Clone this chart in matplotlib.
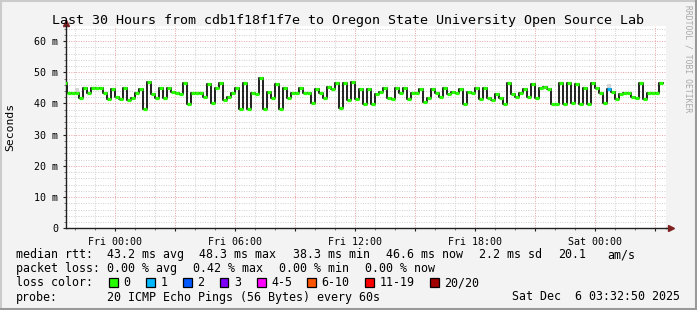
import numpy as np
import pandas as pd
import matplotlib
matplotlib.use("Agg")
import matplotlib.pyplot as plt
import matplotlib.dates as mdates
from matplotlib.ticker import MultipleLocator, FuncFormatter
from matplotlib.patches import Rectangle
from matplotlib.lines import Line2D

# median rtt in ms, one value per 12 minute step
median_ms = [46.5,
    43.4, 43.4, 43.4, 41.7, 44.9, 43.4, 44.9, 44.9, 44.9, 43.4,
    41.5, 44.6, 42.1, 41.5, 44.9, 41.1, 41.9, 43.4, 44.6, 38.3,
    46.8, 43.0, 41.7, 44.9, 41.7, 44.9, 43.6, 43.3, 43.0, 46.6,
    39.9, 43.4, 43.4, 43.4, 42.1, 46.3, 40.2, 44.9, 46.6, 41.1,
    42.1, 43.4, 44.9, 38.3, 46.6, 38.3, 43.4, 43.0, 48.3, 38.3,
    43.6, 41.7, 46.3, 38.3, 44.9, 41.7, 43.4, 43.4, 44.9, 43.4,
    43.4, 40.2, 44.6, 43.4, 41.7, 45.3, 44.6, 46.6, 38.5, 46.6,
    41.0, 46.8, 41.4, 44.6, 39.9, 44.6, 39.9, 43.0, 43.6, 44.9,
    41.7, 41.5, 44.9, 43.4, 44.9, 41.5, 43.4, 43.4, 44.6, 40.4,
    41.7, 44.6, 43.4, 42.1, 44.9, 43.0, 43.6, 43.4, 44.7, 39.9,
    43.6, 43.4, 44.9, 41.5, 44.9, 41.7, 41.1, 43.0, 41.9, 39.9,
    46.6, 43.0, 42.1, 43.4, 44.6, 42.1, 46.3, 41.7, 44.9, 45.2,
    44.6, 39.9, 39.9, 46.6, 39.9, 46.6, 40.2, 46.3, 39.9, 44.9,
    39.9, 46.6, 44.9, 43.4, 40.2, 44.7, 43.6, 41.5, 43.0, 43.4,
    43.4, 42.1, 41.7, 46.6, 41.5, 43.4, 43.4, 43.4, 46.6]
first_step = "2025-12-04 21:24:50"
step_min = 12

# steps with packet loss (index, lost pings)
loss_step = [136]
loss_level = [1]

# visible smoke (ping spread)
smoke_step = [3, 136]
smoke_lo = [43.6, 44.9]
smoke_hi = [44.9, 46.4]

loss_labels = ["0", "1", "2", "3", "4-5", "6-10", "11-19", "20/20"]
loss_colors = ["#26ff00", "#00b8ff", "#0059ff", "#7e00ff", "#ff00ff",
               "#ff5500", "#ff0000", "#a10000"]

W, H = 697, 310
mono = "DejaVu Sans Mono"
plt.rcParams['font.family'] = mono

fig = plt.figure(figsize=(W / 100, H / 100), dpi=100, facecolor="#f3f3f3")


def fx(x):
    return x / W


def fy(y):
    return 1 - y / H


ax_l, ax_r, ax_b, ax_t = 66, 666, 228.3, 25.5
ax = fig.add_axes([fx(ax_l), fy(ax_b), (ax_r - ax_l) / W, (ax_b - ax_t) / H])
ax.set_facecolor("white")

times = pd.date_range(first_step, periods=len(median_ms), freq=f"{step_min}min")
ends = times + pd.Timedelta(minutes=step_min)
vals = np.array(median_ms)

# smoke
for i, lo, hi in zip(smoke_step, smoke_lo, smoke_hi):
    ax.fill_between([times[i], ends[i]], lo, hi, color="#d6d6d6", lw=0, zorder=2)

# median line
tx = np.append(times.to_numpy(), ends[-1].to_datetime64())
ax.step(tx, np.append(vals, vals[-1]), where="post", color="#202020", lw=1.4, zorder=3)

# loss coloured bars
cols = [loss_colors[0]] * len(vals)
for i, lv in zip(loss_step, loss_level):
    cols[i] = loss_colors[lv]
lc = ax.hlines(vals, times.to_numpy(), ends.to_numpy(), colors=cols, lw=2.3, zorder=4)
lc.set_capstyle("butt")

ax.set_xlim(np.datetime64("2025-12-04T21:32:50"), np.datetime64("2025-12-06T03:32:50"))
ax.set_ylim(0, 65)

ax.xaxis.set_major_locator(mdates.HourLocator(byhour=range(0, 24, 3)))
ax.xaxis.set_minor_locator(mdates.HourLocator())


def xfmt(v, pos):
    d = mdates.num2date(v)
    return d.strftime("%a %H:%M") if d.hour % 6 == 0 else ""


ax.xaxis.set_major_formatter(FuncFormatter(xfmt))
ax.yaxis.set_major_locator(MultipleLocator(10))
ax.yaxis.set_minor_locator(MultipleLocator(2))
ax.yaxis.set_major_formatter(FuncFormatter(lambda v, p: "0" if v == 0 else f"{v:.0f} m"))

ax.grid(which="minor", color="#cfcfcf", ls=(0, (1, 1.5)), lw=0.7)
ax.grid(which="major", color="#e9a0a0", ls=(0, (1, 1.5)), lw=0.7)
ax.set_axisbelow(True)

ax.tick_params(which="major", length=2.5, width=0.8, color="#202020", labelsize=7.2, pad=3)
ax.tick_params(which="minor", length=1.5, width=0.6, color="#606060")
ax.tick_params(axis="x", pad=3.5)
for s in ("top", "right"):
    ax.spines[s].set_visible(False)
for s in ("left", "bottom"):
    ax.spines[s].set_color("#202020")
    ax.spines[s].set_linewidth(1.0)

# axis arrows
ax.plot([1.0, 1.006], [0, 0], color="#202020", lw=1.0, transform=ax.transAxes, clip_on=False)
ax.plot([1.008], [0], marker=">", ms=4, color="#802020", transform=ax.transAxes, clip_on=False)
ax.plot([0], [1.012], marker="^", ms=4, color="#802020", transform=ax.transAxes, clip_on=False)

# texts
fig.text(fx(348), fy(24), "Last 30 Hours from cdb1f18f1f7e to Oregon State University Open Source Lab",
         ha="center", va="baseline", fontsize=9.6)
fig.text(fx(10), fy(127), "Seconds", rotation=90, ha="center", va="center", fontsize=8.2)
fig.text(fx(688), fy(5), "RRDTOOL / TOBI OETIKER", rotation=270, ha="center", va="top",
         fontsize=5.8, color="#a8a8a8")

ls = 8.4
fig.text(fx(16), fy(258), "median rtt:", fontsize=ls, va="baseline")
for x, t in [(107.3, "43.2 ms avg"), (199.3, "48.3 ms max"), (293.3, "38.3 ms min"),
             (386, "46.6 ms now"), (479.3, "2.2 ms sd"), (558.3, "20.1"), (607.7, "am/s")]:
    fig.text(fx(x), fy(258), t, fontsize=ls, va="baseline")

fig.text(fx(16), fy(272), "packet loss:", fontsize=ls, va="baseline")
for x, t in [(107.3, "0.00 % avg"), (192.7, "0.42 % max"), (279.3, "0.00 % min"),
             (365, "0.00 % now")]:
    fig.text(fx(x), fy(272), t, fontsize=ls, va="baseline")

fig.text(fx(16), fy(286), "loss color:", fontsize=ls, va="baseline")
box_x = [109, 146, 183, 220, 257, 307, 365, 430]
for bx, lab, c in zip(box_x, loss_labels, loss_colors):
    fig.add_artist(Rectangle((fx(bx), fy(286.5)), 8.5 / W, 9 / H, transform=fig.transFigure,
                             facecolor=c, edgecolor="black", lw=0.9))
    fig.text(fx(bx + 14.5), fy(286), lab, fontsize=ls, va="baseline")

fig.text(fx(16), fy(300.5), "probe:", fontsize=ls, va="baseline")
fig.text(fx(107.3), fy(300.5), "20 ICMP Echo Pings (56 Bytes) every 60s", fontsize=ls, va="baseline")
fig.text(fx(680), fy(300.5), "Sat Dec  6 03:32:50 2025", fontsize=ls, va="baseline", ha="right")

# frame shading
for (x0, y0, x1, y1, c) in [(0.5, 0, 0.5, H, "#cbcbcb"), (0, 0.5, W, 0.5, "#cbcbcb"),
                            (W - 1, 0, W - 1, H, "#999999"), (0, H - 1, W, H - 1, "#999999")]:
    fig.add_artist(Line2D([fx(x0), fx(x1)], [fy(y0), fy(y1)], color=c, lw=1.5,
                          transform=fig.transFigure))

fig.savefig("out.png", dpi=100, facecolor=fig.get_facecolor())
